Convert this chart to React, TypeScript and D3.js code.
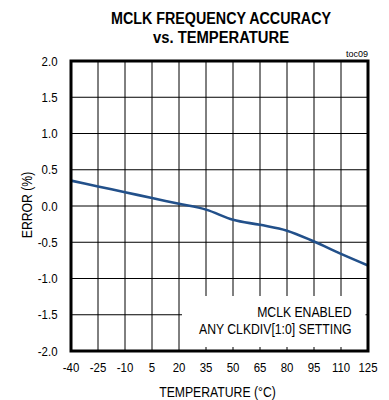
import React from "react";
import * as d3 from "d3";

const temps = [-40, -25, -10, 5, 20, 35, 50, 65, 80, 95, 110, 125];
const errors = [0.35, 0.27, 0.19, 0.11, 0.03, -0.05, -0.19, -0.26, -0.34, -0.49, -0.66, -0.82];
const yTicks = [-2.0, -1.5, -1.0, -0.5, 0.0, 0.5, 1.0, 1.5, 2.0];
const titleLines = ["MCLK FREQUENCY ACCURACY", "vs. TEMPERATURE"];
const legendLines = ["MCLK ENABLED", "ANY CLKDIV[1:0] SETTING"];

const FONT = "'Liberation Sans', Arial, Helvetica, sans-serif";

export default function App() {
  const W = 389, H = 400;
  const left = 71, right = 368, top = 61, bottom = 351;
  const x = d3.scaleLinear().domain([-40, 125]).range([left, right]);
  const y = d3.scaleLinear().domain([-2, 2]).range([bottom, top]);
  const line = d3
    .line<number>()
    .x((_, i) => x(temps[i]))
    .y((d) => y(d))
    .curve(d3.curveMonotoneX);

  const box = { x0: 182, x1: 365.5, y0: 296, y1: 347 };
  const sx = 0.874;

  return (
    <svg
      width={W}
      height={H}
      style={{ position: "absolute", left: 0, top: 0, background: "#fff" }}
      fontFamily={FONT}
    >
      <rect x={0} y={0} width={W} height={H} fill="#fff" />
      {/* title */}
      <text x={221} y={24} textAnchor="middle" fontWeight="bold" fontSize={16}
        textLength={220} lengthAdjust="spacingAndGlyphs">{titleLines[0]}</text>
      <text x={221} y={42.5} textAnchor="middle" fontWeight="bold" fontSize={16}
        textLength={136} lengthAdjust="spacingAndGlyphs">{titleLines[1]}</text>
      <text x={368} y={57} textAnchor="end" fontSize={9}>toc09</text>

      {/* grid */}
      {temps.slice(1, -1).map((t) => (
        <line key={"v" + t} x1={x(t)} x2={x(t)} y1={top} y2={bottom} stroke="#000" strokeWidth={1} />
      ))}
      {yTicks.slice(1, -1).map((v) => (
        <line key={"h" + v} x1={left} x2={right} y1={y(v)} y2={y(v)} stroke="#000" strokeWidth={1} />
      ))}

      {/* legend box (covers grid) */}
      <rect x={box.x0} y={box.y0} width={box.x1 - box.x0} height={box.y1 - box.y0} fill="#fff" />
      <g transform={`translate(351.5,317) scale(${sx},1)`}>
        <text x={0} y={0} textAnchor="end" fontSize={14}>{legendLines[0]}</text>
      </g>
      <g transform={`translate(351.5,334) scale(${sx},1)`}>
        <text x={0} y={0} textAnchor="end" fontSize={14}>{legendLines[1]}</text>
      </g>

      {/* data line */}
      <path d={line(errors) || ""} fill="none" stroke="#22508a" strokeWidth={2.6} strokeLinejoin="round" />

      {/* frame */}
      <rect x={left} y={top} width={right - left} height={bottom - top} fill="none" stroke="#000" strokeWidth={3} />

      {/* y tick labels */}
      {yTicks.map((v) => (
        <g key={"yl" + v} transform={`translate(57.5,${y(v) + 4.5}) scale(0.88,1)`}>
          <text x={0} y={0} textAnchor="end" fontSize={13}>{v.toFixed(1)}</text>
        </g>
      ))}
      {/* x tick labels */}
      {temps.map((t) => (
        <g key={"xl" + t} transform={`translate(${x(t)},372) scale(0.88,1)`}>
          <text x={0} y={0} textAnchor="middle" fontSize={13}>{t}</text>
        </g>
      ))}

      {/* axis titles */}
      <g transform={`translate(217.5,397) scale(${sx},1)`}>
        <text x={0} y={0} textAnchor="middle" fontSize={14}>TEMPERATURE (°C)</text>
      </g>
      <g transform={`translate(31.5,205) rotate(-90) scale(${sx},1)`}>
        <text x={0} y={0} textAnchor="middle" fontSize={14}>ERROR (%)</text>
      </g>
    </svg>
  );
}
